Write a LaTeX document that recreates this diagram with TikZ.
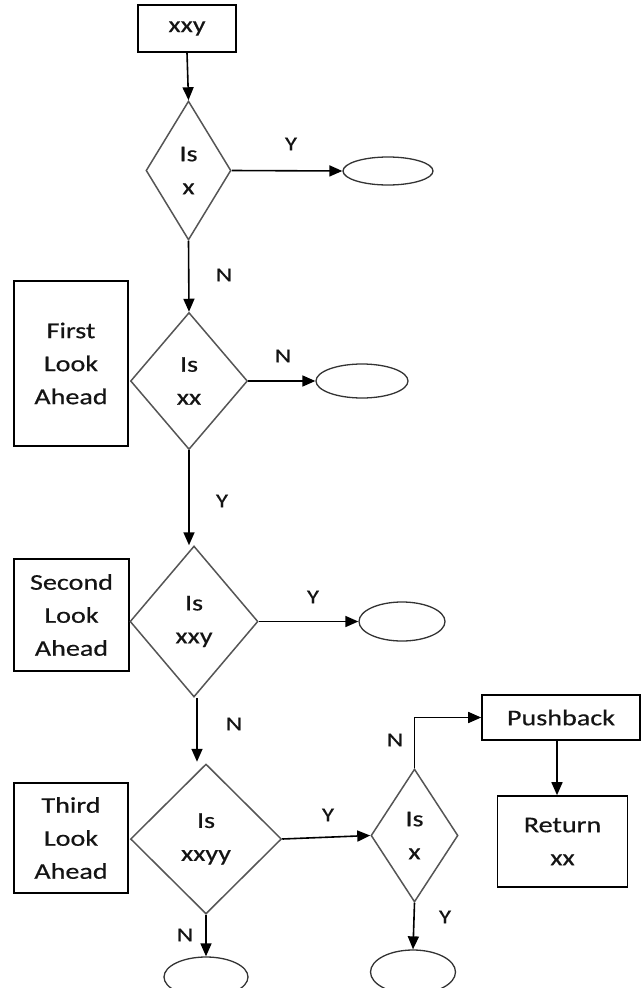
\documentclass[tikz,border=0pt]{standalone}
\usepackage{fontspec}
\setmainfont{Carlito}[FakeStretch=1.25,FakeBold=0.5]
\usetikzlibrary{shapes.geometric,arrows.meta}
\definecolor{ink}{HTML}{141414}
\definecolor{dline}{HTML}{555555}
\definecolor{eline}{HTML}{333333}
\tikzset{
  txt/.style={text=ink, align=center, font=\fontsize{22.5}{33}\selectfont},
  box/.style={txt, rectangle, draw=black, line width=1.6pt, inner sep=0pt},
  dec/.style={txt, diamond, draw=dline, line width=1.5pt, inner sep=0pt},
  term/.style={ellipse, draw=eline, line width=1.3pt, inner sep=0pt},
  lbl/.style={text=ink, font=\fontsize{20}{20}\selectfont, inner sep=0pt},
  arr/.style={line width=1.6pt, draw=black, -{Triangle[length=13pt,width=11pt]}}
}
\begin{document}
\begin{tikzpicture}[x=1pt,y=-1pt]
\useasboundingbox (0,0) rectangle (641,988);

% process boxes
\node[box, minimum width=98pt, minimum height=47pt] (start) at (187,28.5) {xxy};
\node[box, minimum width=114pt, minimum height=165pt] (la1) at (71,363.5) {First\\Look\\Ahead};
\node[box, minimum width=115pt, minimum height=112pt] (la2) at (71.5,615) {Second\\Look\\Ahead};
\node[box, minimum width=114pt, minimum height=110pt] (la3) at (71,838) {Third\\Look\\Ahead};
\node[box, minimum width=158pt, minimum height=45pt] (push) at (561,717.5) {Pushback};
\node[box, minimum width=130pt, minimum height=91pt] (ret) at (562.5,841.5) {Return\\xx};

% decisions
\node[dec, minimum width=85pt, minimum height=139pt] (d1) at (188.5,170.5) {Is\\x};
\node[dec, minimum width=117pt, minimum height=137pt] (d2) at (189,381) {Is\\xx};
\node[dec, minimum width=128pt, minimum height=151pt] (d3) at (194,621.5) {Is\\xxy};
\node[dec, minimum width=151pt, minimum height=150pt] (d4) at (206,839) {Is\\xxyy};
\node[dec, minimum width=87pt, minimum height=133pt] (d5) at (414.5,835.5) {Is\\x};

% terminals
\node[term, minimum width=90pt, minimum height=28pt] (e1) at (388,171) {};
\node[term, minimum width=92pt, minimum height=34pt] (e2) at (362,381) {};
\node[term, minimum width=86pt, minimum height=39pt] (e3) at (402,621.5) {};
\node[term, minimum width=84pt, minimum height=40pt] (e4) at (206,977) {};
\node[term, minimum width=85pt, minimum height=44pt] (e5) at (413,972) {};

% connectors
\draw[arr] (start.south) -- (d1.north);
\draw[arr] (d1.east) -- (e1.west);
\draw[arr] (d1.south) -- (d2.north);
\draw[arr] (d2.east) -- (e2.west);
\draw[arr] (d2.south) -- (d2.south |- d3.north);
\draw[arr] (d3.east) -- (e3.west);
\draw[arr] (d3.south) ++(3,0) -- ++(0,64);
\draw[arr] (d4.east) -- (d5.west);
\draw[arr] (d4.south) -- (e4.north);
\draw[arr] (d5.north) |- (push.west);
\draw[arr] ([xshift=-4pt]push.south) -- ([xshift=-4pt]push.south |- ret.north);
\draw[arr] (d5.south) -- (e5.north);

% branch labels
\node[lbl] (l1) at (291,144) {Y};
\node[lbl] (l2) at (224,275) {N};
\node[lbl] (l3) at (283,356) {N};
\node[lbl] (l4) at (222,501) {Y};
\node[lbl] (l5) at (313,597) {Y};
\node[lbl] (l6) at (234,724) {N};
\node[lbl] (l7) at (328,815) {Y};
\node[lbl] (l8) at (395,740) {N};
\node[lbl] (l9) at (185,935) {N};
\node[lbl] (l10) at (445,917) {Y};
\end{tikzpicture}
\end{document}
